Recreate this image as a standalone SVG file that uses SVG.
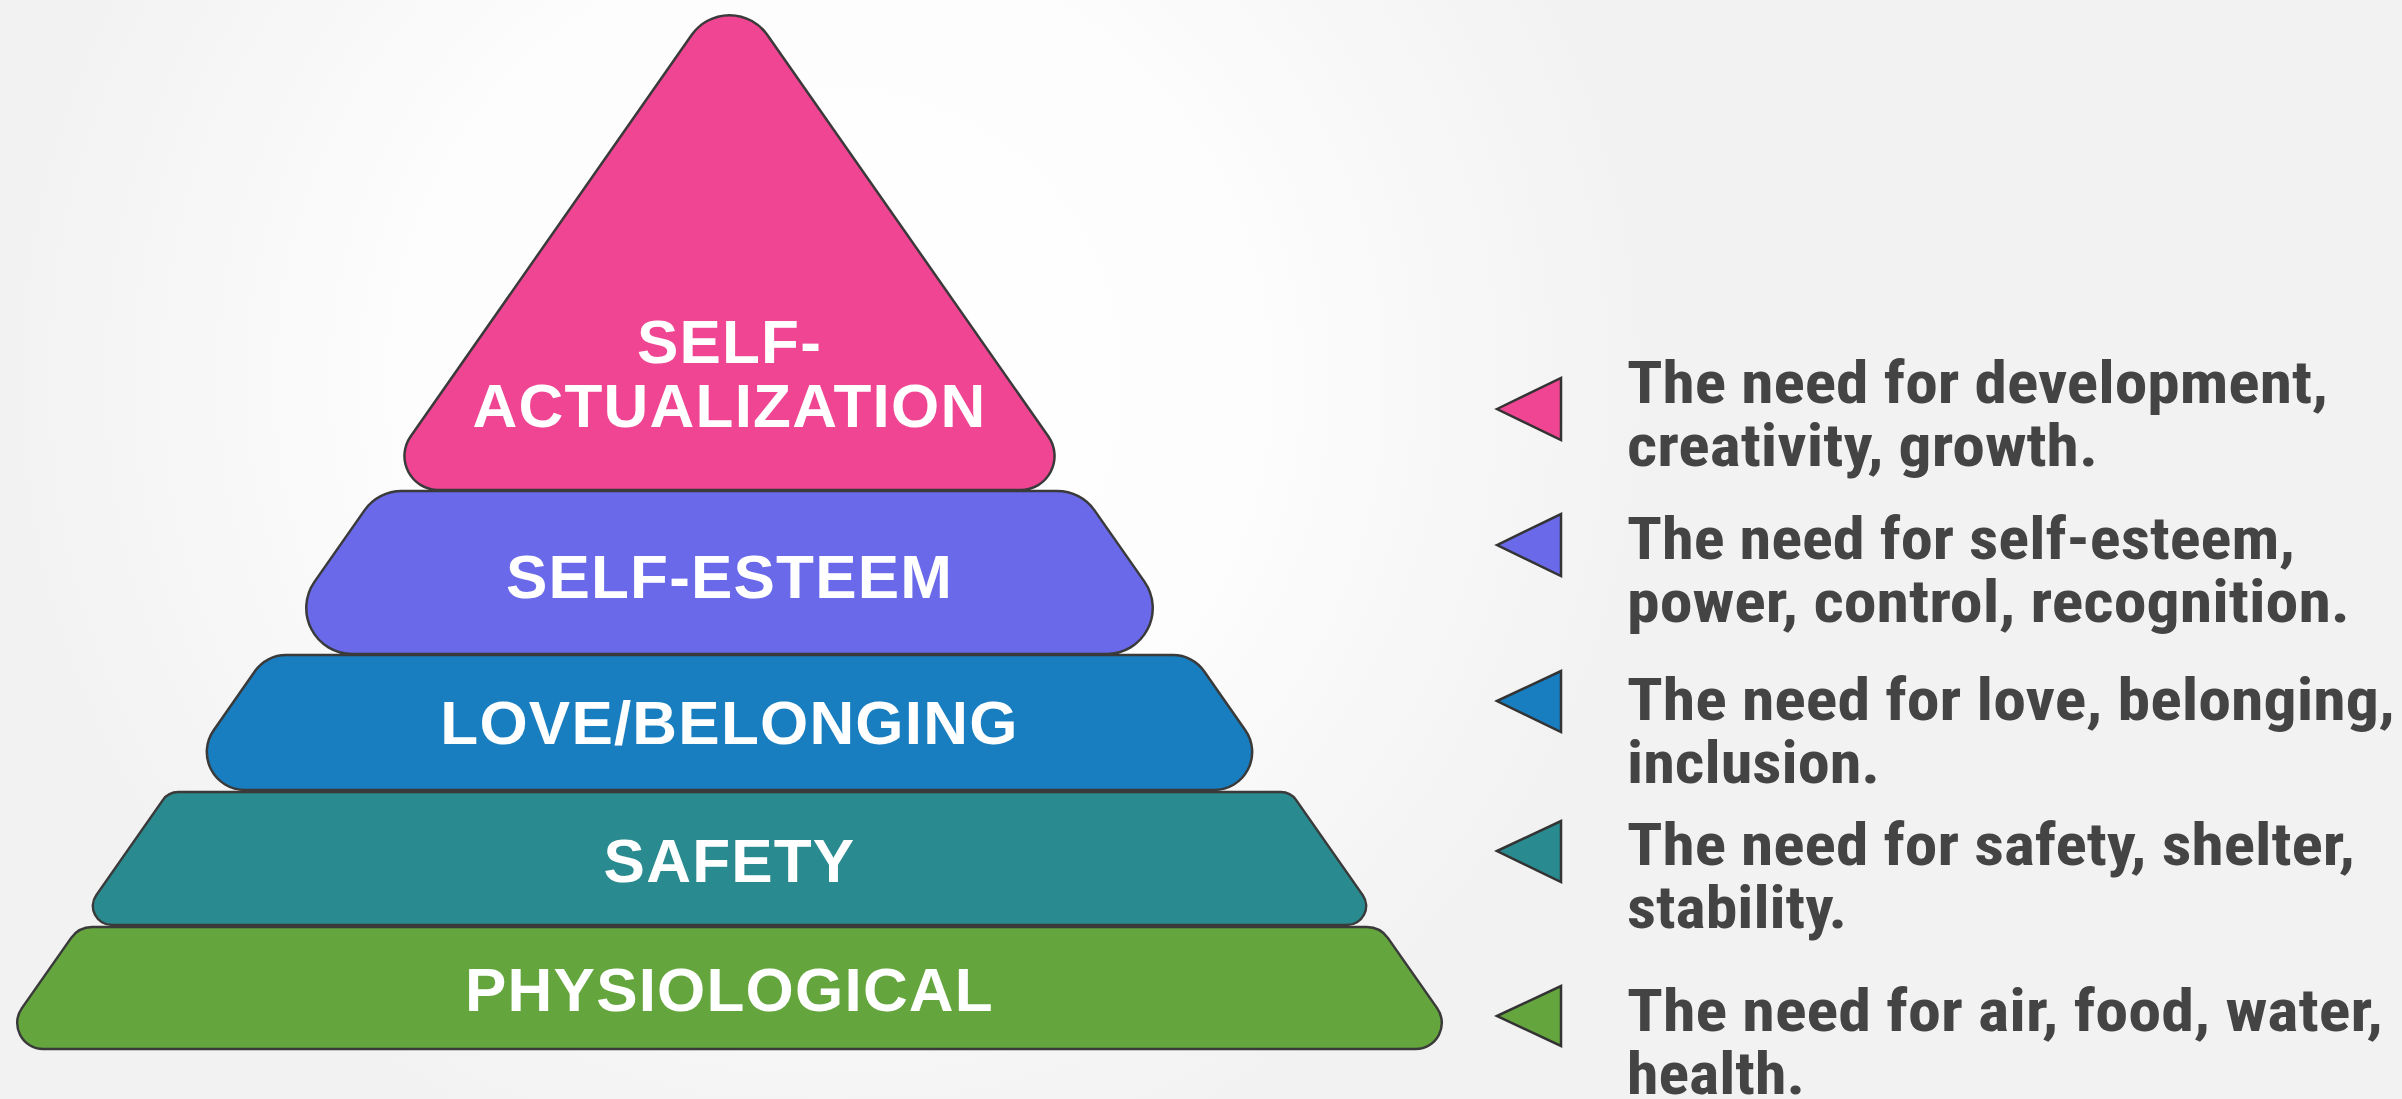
<svg xmlns="http://www.w3.org/2000/svg" width="2402" height="1099" viewBox="0 0 2402 1099">
  <defs>
    <radialGradient id="bg" gradientUnits="userSpaceOnUse" cx="830" cy="380" r="820">
      <stop offset="0" stop-color="#ffffff"/>
      <stop offset="0.5" stop-color="#fdfdfd"/>
      <stop offset="1" stop-color="#f2f2f2"/>
    </radialGradient>
  </defs>
  <style>
    .tier { stroke: #3a3a3a; stroke-width: 2.5; stroke-linejoin: round; }
    .label { font-family: "Liberation Sans", Arial, sans-serif; font-weight: bold; font-size: 62px; fill: #ffffff; text-anchor: middle; letter-spacing: 1.2px; }
    .mark { stroke: #333333; stroke-width: 2.5; stroke-linejoin: miter; }
    .desc { font-family: "Liberation Sans Narrow", "Roboto Condensed", "DejaVu Sans Condensed", "Liberation Sans", sans-serif; font-weight: bold; font-size: 60px; fill: #444444; }
    .pink { fill: #ef4592; }
    .purple { fill: #6969e9; }
    .blue { fill: #187ec0; }
    .teal { fill: #298b8f; }
    .green { fill: #64a53e; }
  </style>
  <rect x="0" y="0" width="2402" height="1099" fill="url(#bg)"/>

  <g id="tier-physiological">
    <path class="tier green" d="M92.2,927 L1366.8,927 A26,26 0 0 1 1388,938.1 L1437.1,1008.1 A26,26 0 0 1 1415.8,1049 L43.2,1049 A26,26 0 0 1 21.9,1008.1 L71,938.1 A26,26 0 0 1 92.2,927 Z"/>
    <text class="label" x="729.5" y="1011">PHYSIOLOGICAL</text>
  </g>
  <g id="tier-safety">
    <path class="tier teal" d="M178.4,792 L1280.6,792 A19,19 0 0 1 1296.2,800.1 L1362.7,895.1 A19,19 0 0 1 1347.1,925 L111.9,925 A19,19 0 0 1 96.3,895.1 L162.8,800.1 A19,19 0 0 1 178.4,792 Z"/>
    <text class="label" x="729.5" y="882">SAFETY</text>
  </g>
  <g id="tier-love-belonging">
    <path class="tier blue" d="M286.1,655 L1172.9,655 A38,38 0 0 1 1204.1,671.2 L1245.3,730.2 A38,38 0 0 1 1214.2,790 L244.8,790 A38,38 0 0 1 213.7,730.2 L254.9,671.2 A38,38 0 0 1 286.1,655 Z"/>
    <text class="label" x="729.5" y="744">LOVE/BELONGING</text>
  </g>
  <g id="tier-self-esteem">
    <path class="tier purple" d="M401.9,491 L1057.1,491 A46,46 0 0 1 1094.7,510.6 L1144.4,581.6 A46,46 0 0 1 1106.7,654 L352.3,654 A46,46 0 0 1 314.6,581.6 L364.3,510.6 A46,46 0 0 1 401.9,491 Z"/>
    <text class="label" x="729.5" y="598">SELF-ESTEEM</text>
  </g>
  <g id="tier-self-actualization">
    <path class="tier pink" d="M691.8,34.8 A46,46 0 0 1 767.2,34.8 L1048.4,436.5 A34,34 0 0 1 1020.5,490 L438.5,490 A34,34 0 0 1 410.6,436.5 Z"/>
    <text class="label" x="729.5" y="363">SELF-</text>
    <text class="label" x="729.5" y="427">ACTUALIZATION</text>
  </g>

  <g id="connectors"/>

  <g id="legend-self-actualization">
    <polygon class="mark pink" points="1497,409 1561,378 1561,440"/>
    <text class="desc" x="1627" y="403" textLength="701" lengthAdjust="spacingAndGlyphs">The need for development,</text>
    <text class="desc" x="1627" y="466" textLength="471" lengthAdjust="spacingAndGlyphs">creativity, growth.</text>
  </g>
  <g id="legend-self-esteem">
    <polygon class="mark purple" points="1497,545 1561,514 1561,576"/>
    <text class="desc" x="1627" y="559" textLength="668" lengthAdjust="spacingAndGlyphs">The need for self-esteem,</text>
    <text class="desc" x="1627" y="622" textLength="723" lengthAdjust="spacingAndGlyphs">power, control, recognition.</text>
  </g>
  <g id="legend-love-belonging">
    <polygon class="mark blue" points="1497,701 1561,671 1561,732"/>
    <text class="desc" x="1627" y="720" textLength="768" lengthAdjust="spacingAndGlyphs">The need for love, belonging,</text>
    <text class="desc" x="1627" y="783" textLength="253" lengthAdjust="spacingAndGlyphs">inclusion.</text>
  </g>
  <g id="legend-safety">
    <polygon class="mark teal" points="1497,851 1561,821 1561,882"/>
    <text class="desc" x="1627" y="865" textLength="728" lengthAdjust="spacingAndGlyphs">The need for safety, shelter,</text>
    <text class="desc" x="1627" y="928" textLength="220" lengthAdjust="spacingAndGlyphs">stability.</text>
  </g>
  <g id="legend-physiological">
    <polygon class="mark green" points="1497,1016 1561,986 1561,1046"/>
    <text class="desc" x="1627" y="1031" textLength="756" lengthAdjust="spacingAndGlyphs">The need for air, food, water,</text>
    <text class="desc" x="1627" y="1094" textLength="178" lengthAdjust="spacingAndGlyphs">health.</text>
  </g>
</svg>
